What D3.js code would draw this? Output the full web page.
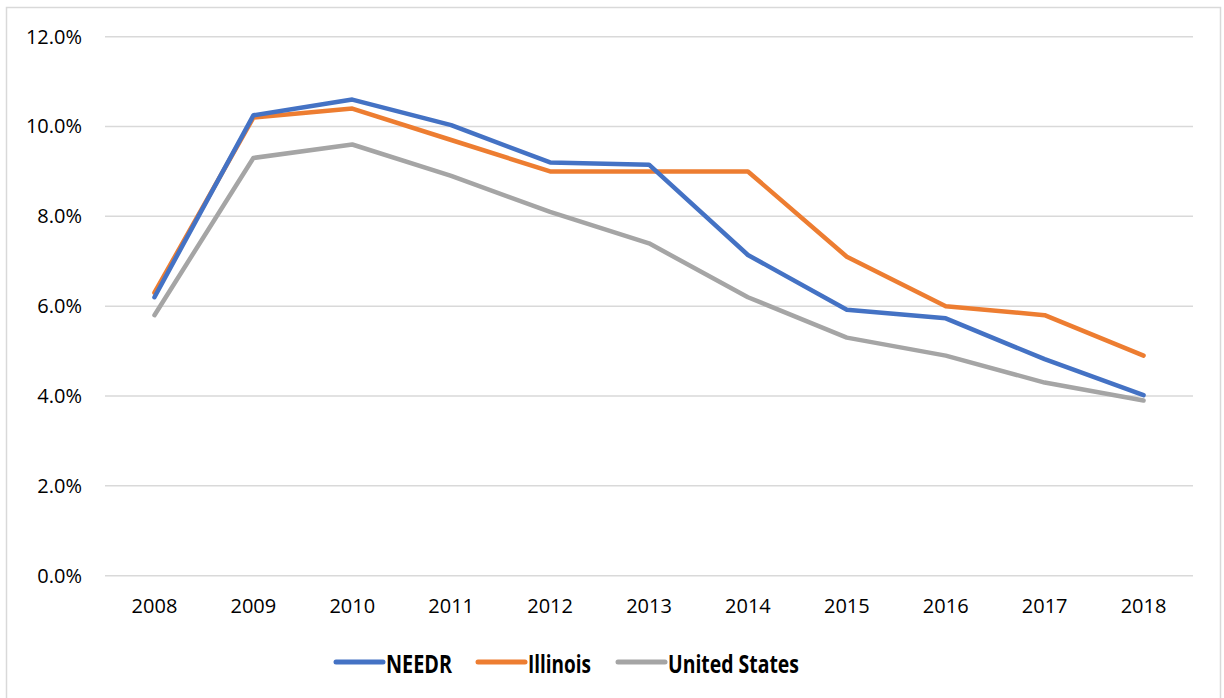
<!DOCTYPE html>
<html>
<head>
<meta charset="utf-8">
<script src="https://cdn.jsdelivr.net/npm/d3@7"></script>
<style>
  body { margin: 0; background: #fff; }
  text { font-family: "Open Sans", "Noto Sans", sans-serif; fill: #000; }
</style>
</head>
<body>
<svg></svg>
<script>
var width = 1224
var height = 698

var years = ["2008", "2009", "2010", "2011", "2012", "2013", "2014", "2015", "2016", "2017", "2018"]
var needr = [6.2, 10.25, 10.6, 10.03, 9.2, 9.15, 7.14, 5.92, 5.73, 4.82, 4.02]
var illinois = [6.3, 10.2, 10.4, 9.7, 9.0, 9.0, 9.0, 7.1, 6.0, 5.8, 4.9]
var unitedStates = [5.8, 9.3, 9.6, 8.9, 8.1, 7.4, 6.2, 5.3, 4.9, 4.3, 3.9]
var yTicks = [0, 2, 4, 6, 8, 10, 12]

var seriesNames = ["NEEDR", "Illinois", "United States"]
var seriesColors = ["#4472C4", "#ED7D31", "#A5A5A5"]
var seriesValues = [needr, illinois, unitedStates]

var svg = d3.select("svg")
  .attr("width", width)
  .attr("height", height)

// chart border
svg.append("rect")
  .attr("x", 6.5).attr("y", 7.5)
  .attr("width", 1214).attr("height", 700)
  .attr("fill", "none")
  .attr("stroke", "#D9D9D9")
  .attr("stroke-width", 1.5)

var x = d3.scaleBand().domain(years).range([105, 1193])
var y = d3.scaleLinear().domain([0, 12]).range([575.7, 36.7])

// gridlines
svg.append("g")
  .selectAll("line")
  .data(yTicks)
  .join("line")
  .attr("x1", 105).attr("x2", 1193)
  .attr("y1", d => y(d)).attr("y2", d => y(d))
  .attr("stroke", "#D9D9D9")
  .attr("stroke-width", 1.5)

// y axis labels
var yAxis = svg.append("g")
  .attr("transform", "translate(82,0)")
  .call(d3.axisLeft(y).tickValues(yTicks).tickSize(0).tickPadding(0).tickFormat(d => d.toFixed(1) + "%"))
yAxis.select(".domain").remove()
yAxis.selectAll("text")
  .attr("font-size", 20)
  .attr("font-family", "Open Sans, Noto Sans, sans-serif")
  .attr("fill", "#000")

// x axis labels
var xAxis = svg.append("g")
  .attr("transform", "translate(0,599)")
  .call(d3.axisBottom(x).tickSize(0).tickPadding(0))
xAxis.select(".domain").remove()
xAxis.selectAll("text")
  .attr("font-size", 20)
  .attr("font-family", "Open Sans, Noto Sans, sans-serif")
  .attr("fill", "#000")

var line = d3.line()
  .x((d, i) => x(years[i]) + x.bandwidth() / 2)
  .y(d => y(d))

// draw gray first, orange, then blue on top
for (var k = seriesValues.length - 1; k >= 0; k--) {
  svg.append("path")
    .datum(seriesValues[k])
    .attr("d", line)
    .attr("fill", "none")
    .attr("stroke", seriesColors[k])
    .attr("stroke-width", 4.5)
    .attr("stroke-linecap", "round")
    .attr("stroke-linejoin", "round")
}

// legend
var legendX = [336, 478, 618]
var legendTextWidth = [66, 63, 131]
var legend = svg.append("g")
  .selectAll("g")
  .data(seriesNames)
  .join("g")
  .attr("transform", (d, i) => "translate(" + legendX[i] + ",662)")

legend.append("line")
  .attr("x1", 0).attr("x2", 47)
  .attr("y1", 0).attr("y2", 0)
  .attr("stroke", (d, i) => seriesColors[i])
  .attr("stroke-width", 5)
  .attr("stroke-linecap", "round")

legend.append("text")
  .attr("x", 50)
  .attr("y", 1)
  .attr("dominant-baseline", "central")
  .attr("font-size", 25)
  .attr("font-weight", "bold")
  .attr("textLength", (d, i) => legendTextWidth[i])
  .attr("lengthAdjust", "spacingAndGlyphs")
  .text(d => d)
</script>
</body>
</html>
